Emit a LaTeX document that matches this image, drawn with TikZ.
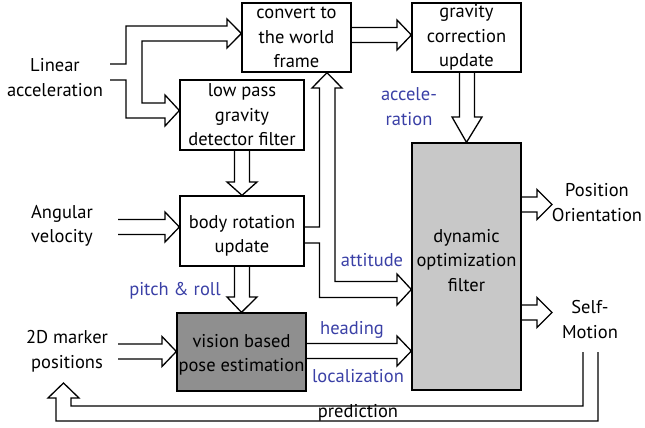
\documentclass[tikz,border=0pt]{standalone}
\usepackage{fontspec}
\setmainfont{PT Sans}
\definecolor{lblblue}{RGB}{58,64,166}
\definecolor{darkfill}{RGB}{143,143,143}
\definecolor{lightfill}{RGB}{200,200,200}
\begin{document}
\begin{tikzpicture}[x=1pt,y=-1pt,
  txt/.style={font=\fontsize{18.5}{24.5}\selectfont, align=center, inner sep=0pt},
  blk/.style={txt, draw, line width=1.3pt},
  lbl/.style={txt, text=lblblue},
  flow/.style={line width=1.3pt, line join=miter}]
\useasboundingbox (0,0) rectangle (645,428);

% processing blocks
\node[blk, minimum width=109pt, minimum height=69pt] (conv) at (296.5,37.5) {convert to\\the world\\frame};
\node[blk, minimum width=109pt, minimum height=69pt] (grav) at (466.5,37.5) {gravity\\correction\\update};
\node[blk, minimum width=124pt, minimum height=70pt] (lowp) at (242,115) {low pass\\gravity\\detector filter};
\node[blk, minimum width=124pt, minimum height=70pt] (body) at (242,231) {};
\node[txt] (bodytxt) at (242,236) {body rotation\\update};
\node[blk, fill=darkfill, minimum width=129pt, minimum height=78pt] (vis) at (241.5,352) {};
\node[txt] (vistxt) at (241.5,355) {vision based\\pose estimation};
\node[blk, fill=lightfill, minimum width=109pt, minimum height=247pt] (dyn) at (466.5,266.5) {};
\node[txt] (dyntxt) at (466.5,260.5) {dynamic\\optimization\\filter};

% inputs and outputs
\node[txt] (linacc) at (55,77.5) {Linear\\acceleration};
\node[txt] (angvel) at (62,226) {Angular\\velocity};
\node[txt] (marker) at (67,351.5) {2D marker\\positions};
\node[txt] (posori) at (597,202.5) {Position\\Orientation};
\node[txt] (selfm) at (590,319.5) {Self-\\Motion};

% signal labels
\node[lbl] (lacc) at (409,106.5) {accele-\\ration};
\node[lbl] (latt) at (372,260) {attitude};
\node[lbl] (lpr) at (175,291) {pitch \& roll};
\node[lbl] (lhead) at (352,330) {heading};
\node[lbl] (lloc) at (358,376) {localization};

% linear acceleration, split into the two upper blocks
\draw[flow] (110,64) -- (126,64) -- (126,26) -- (227,26) -- (227,19)
  -- (conv.west |- 0,33.5) -- (227,48) -- (227,41) -- (142,41) -- (142,103)
  -- (165,103) -- (165,95) -- (lowp.west |- 0,110.5) -- (165,126) -- (165,118)
  -- (126,118) -- (126,80) -- (110,80);

% convert -> gravity correction
\draw[flow] (conv.east |- 0,27.5) -- (397,27.5) -- (397,20) -- (grav.west |- 0,35)
  -- (397,50) -- (397,42.5) -- (conv.east |- 0,42.5);

% gravity correction -> dynamic filter
\draw[flow] (459.5,0 |- grav.south) -- (459.5,117) -- (452,117) -- (dyn.north)
  -- (482,117) -- (474.5,117) -- (474.5,0 |- grav.south);

% low pass -> body rotation
\draw[flow] (234.5,0 |- lowp.south) -- (234.5,182) -- (227,182) -- (body.north)
  -- (257,182) -- (249.5,182) -- (249.5,0 |- lowp.south);

% angular velocity -> body rotation
\draw[flow] (118,219.5) -- (165,219.5) -- (165,212) -- (body.west |- 0,227)
  -- (165,242) -- (165,234.5) -- (118,234.5);

% body rotation -> vision
\draw[flow] (234.5,0 |- body.south) -- (234.5,297) -- (227,297) -- (vis.north)
  -- (257,297) -- (249.5,297) -- (249.5,0 |- body.south);

% 2D markers -> vision
\draw[flow] (118,344) -- (162,344) -- (162,336.5) -- (vis.west |- 0,351.5)
  -- (162,366.5) -- (162,359) -- (118,359);

% attitude: body rotation -> convert and -> dynamic filter
\draw[flow] (body.east |- 0,227) -- (319.5,227) -- (319.5,88) -- (312,88)
  -- (conv.south -| 327,0) -- (342,88) -- (335,88) -- (335,281.5) -- (397,281.5)
  -- (397,274) -- (dyn.west |- 0,289.5) -- (397,305) -- (397,297.5)
  -- (319.5,297.5) -- (319.5,243) -- (body.east |- 0,243);

% heading / localization: vision -> dynamic filter
\draw[flow] (vis.east |- 0,343.5) -- (397,343.5) -- (397,336) -- (dyn.west |- 0,351)
  -- (397,366) -- (397,358.5) -- (vis.east |- 0,358.5);

% dynamic filter -> position / orientation
\draw[flow] (dyn.east |- 0,197) -- (537,197) -- (537,189.5) -- (552,204.5)
  -- (537,219.5) -- (537,212) -- (dyn.east |- 0,212);

% dynamic filter -> self-motion
\draw[flow] (dyn.east |- 0,305) -- (537,305) -- (537,297.5) -- (552,312.5)
  -- (537,327.5) -- (537,320) -- (dyn.east |- 0,320);

% prediction feedback to the marker positions
\draw[flow] (583,352) -- (583,406) -- (71,406) -- (71,398) -- (79,398)
  -- (63.5,383) -- (48,398) -- (56,398) -- (56,421) -- (598,421) -- (598,352);
\node[txt] (pred) at (358,413) {prediction};
\end{tikzpicture}
\end{document}
